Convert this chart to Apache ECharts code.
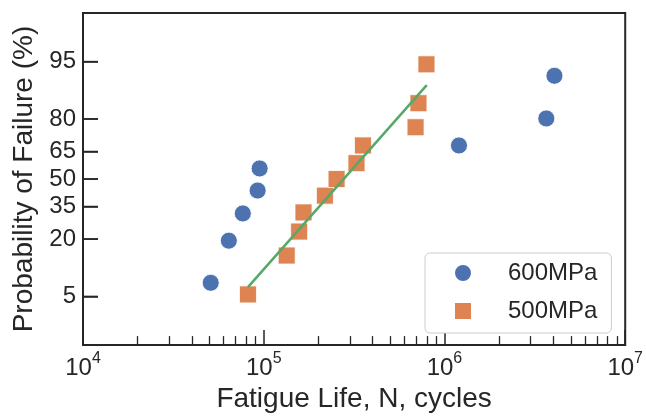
<!DOCTYPE html>
<html><head><meta charset="utf-8">
<script src="https://cdn.jsdelivr.net/npm/echarts@6/dist/echarts.min.js"></script>
<style>html,body{margin:0;padding:0;background:#fff}#c{width:646px;height:418px}</style>
</head><body><div id="c"></div>
<script>
// ---- data ----
const cycles600 = [50.9e3, 64.1e3, 76.6e3, 92.5e3, 94.9e3, 1.203e6, 3.66e6, 4.06e6];
const prob600   = [7.3, 19.4, 31.5, 43.6, 55.9, 68.1, 80.2, 92.6];
const cycles500 = [81.8e3, 134e3, 157e3, 166e3, 218e3, 253e3, 326e3, 354e3, 692e3, 718e3, 795e3];
const prob500   = [5.3, 14.2, 23.1, 32.0, 40.8, 50.0, 58.8, 68.1, 76.6, 85.6, 94.6];
const fitCycles = [81.8e3, 798e3];
const fitProb   = [6.5, 90.6];
const yTickPct  = [5, 20, 35, 50, 65, 80, 95];
const yRangePct = [1, 99];
const xMajor = [1e4, 1e5, 1e6, 1e7];
const xMinor = [2e4, 3e4, 4e4, 5e4, 6e4, 7e4, 8e4, 9e4,
                2e5, 3e5, 4e5, 5e5, 6e5, 7e5, 8e5, 9e5,
                2e6, 3e6, 4e6, 5e6, 6e6, 7e6, 8e6, 9e6];

// normal probability scale (inverse normal CDF)
function probit(p){
  const a=[-3.969683028665376e+01,2.209460984245205e+02,-2.759285104469687e+02,1.383577518672690e+02,-3.066479806614716e+01,2.506628277459239e+00];
  const b=[-5.447609879822406e+01,1.615858368580409e+02,-1.556989798598866e+02,6.680131188771972e+01,-1.328068155288572e+01];
  const c=[-7.784894002430293e-03,-3.223964580411365e-01,-2.400758277161838e+00,-2.549732539343734e+00,4.374664141464968e+00,2.938163982698783e+00];
  const d=[7.784695709041462e-03,3.224671290700398e-01,2.445134137142996e+00,3.754408661907416e+00];
  const pl=0.02425, ph=1-pl; let q,r;
  if(p<pl){q=Math.sqrt(-2*Math.log(p));return (((((c[0]*q+c[1])*q+c[2])*q+c[3])*q+c[4])*q+c[5])/((((d[0]*q+d[1])*q+d[2])*q+d[3])*q+1);}
  if(p<=ph){q=p-0.5;r=q*q;return (((((a[0]*r+a[1])*r+a[2])*r+a[3])*r+a[4])*r+a[5])*q/(((((b[0]*r+b[1])*r+b[2])*r+b[3])*r+b[4])*r+1);}
  q=Math.sqrt(-2*Math.log(1-p));return -(((((c[0]*q+c[1])*q+c[2])*q+c[3])*q+c[4])*q+c[5])/((((d[0]*q+d[1])*q+d[2])*q+d[3])*q+1);
}
const pz = v => probit(v/100);
const yTickVals = yTickPct.map(pz);

const FONT = '"Liberation Sans", Arial, sans-serif';
const INK = '#262626';

const chart = echarts.init(document.getElementById('c'));
chart.setOption({
  animation:false,
  backgroundColor:'#fff',
  textStyle:{fontFamily:FONT, color:INK},
  grid:{left:83, right:17, top:13, bottom:70, show:true, borderColor:INK, borderWidth:2, backgroundColor:'transparent'},
  legend:{
    orient:'vertical', left:425, top:253,
    padding:[8,14,10,28], itemWidth:18, itemHeight:18, itemGap:14,
    backgroundColor:'#fff', borderColor:'#cccccc', borderWidth:1, borderRadius:5,
    textStyle:{fontSize:24, color:INK, padding:[0,0,0,31], lineHeight:24},
    data:[{name:'600MPa', icon:'circle'}, {name:'500MPa', icon:'rect'}]
  },
  xAxis:[{
    type:'log', logBase:10, min:xMajor[0], max:xMajor[xMajor.length-1],
    position:'bottom',
    name:'Fatigue Life, N, cycles', nameLocation:'middle', nameGap:38,
    nameTextStyle:{fontSize:28, color:INK},
    axisLine:{show:true, onZero:false, lineStyle:{color:INK, width:2}},
    axisTick:{show:true, inside:true, length:15, customValues:xMajor, lineStyle:{color:INK, width:1.5}},
    axisLabel:{customValues:xMajor, margin:5, color:INK,
      formatter:v=>'{b|10}{s|'+Math.round(Math.log10(v))+'}',
      rich:{b:{fontSize:24, color:INK, verticalAlign:'bottom', lineHeight:30},
            s:{fontSize:16, color:INK, verticalAlign:'top', lineHeight:16}}},
    splitLine:{show:false}
  },{
    type:'log', logBase:10, min:xMajor[0], max:xMajor[xMajor.length-1],
    position:'bottom',
    axisLine:{show:false, onZero:false},
    axisTick:{show:true, inside:true, length:9, customValues:xMinor, lineStyle:{color:INK, width:1.3}},
    axisLabel:{show:false}, splitLine:{show:false}
  }],
  yAxis:[{
    type:'value', min:pz(yRangePct[0]), max:pz(yRangePct[1]),
    position:'left',
    name:'Probability of Failure (%)', nameLocation:'middle', nameGap:43,
    nameTextStyle:{fontSize:28, color:INK},
    axisLine:{show:true, onZero:false, lineStyle:{color:INK, width:2}},
    axisTick:{show:true, inside:true, length:15, customValues:yTickVals, lineStyle:{color:INK, width:1.5}},
    axisLabel:{customValues:yTickVals, margin:7, fontSize:24, color:INK,
      formatter:v=>{let bi=0,bd=1e9;yTickVals.forEach((t,i)=>{const dd=Math.abs(t-v);if(dd<bd){bd=dd;bi=i;}});return String(yTickPct[bi]);}},
    splitLine:{show:false}
  }],
  series:[
    {name:'600MPa', type:'scatter', symbol:'circle', symbolSize:17,
     itemStyle:{color:'#4c72b0', borderColor:'#fff', borderWidth:0.8, opacity:1},
     data:cycles600.map((x,i)=>[x, pz(prob600[i])])},
    {name:'500MPa', type:'scatter', symbol:'rect', symbolSize:17,
     itemStyle:{color:'#dd8452', borderColor:'#fff', borderWidth:0.8, opacity:1},
     data:cycles500.map((x,i)=>[x, pz(prob500[i])])},
    {name:'fit', type:'line', showSymbol:false, symbol:'none', z:5,
     lineStyle:{color:'#55a868', width:2.5},
     data:fitCycles.map((x,i)=>[x, pz(fitProb[i])])},
    // y-axis tick marks at the labelled probabilities, placed through the axis scales
    {name:'yticks', type:'scatter', symbol:'rect', symbolSize:[15,1.6], symbolOffset:[7.5,0],
     silent:true, clip:false, z:6, legendHoverLink:false,
     itemStyle:{color:INK, opacity:1},
     data:yTickVals.map(v=>[xMajor[0], v])}
  ]
});
</script></body></html>
